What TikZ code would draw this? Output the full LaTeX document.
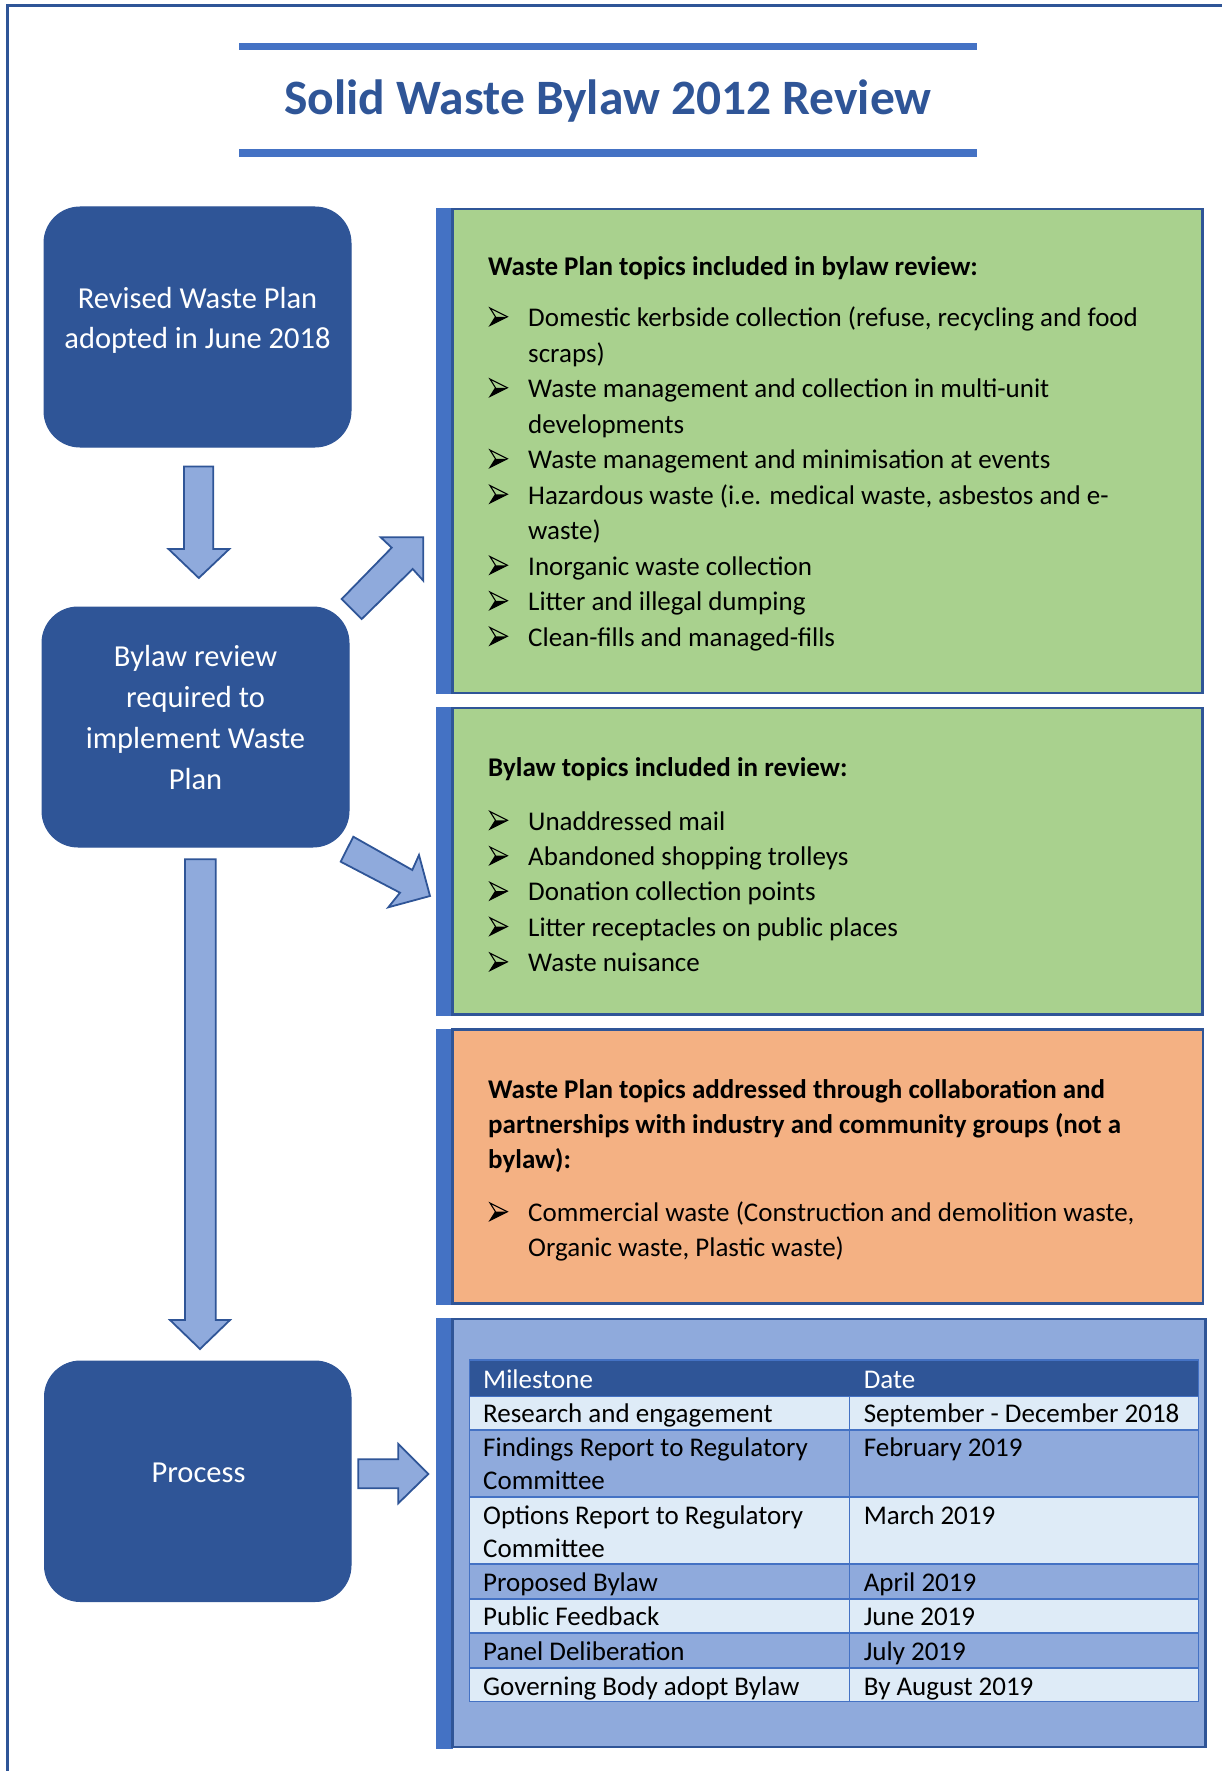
\documentclass[tikz,border=0pt]{standalone}
\usepackage{fontspec}
\usetikzlibrary{calc}
\setmainfont{Carlito}
\definecolor{dblue}{HTML}{2F5597}
\definecolor{mblue}{HTML}{4472C4}
\definecolor{lblue}{HTML}{8FAADC}
\definecolor{pblue}{HTML}{DEEBF7}
\definecolor{wgreen}{HTML}{A9D18E}
\definecolor{worange}{HTML}{F4B183}
\tikzset{
  frameline/.style={draw=dblue,line width=3pt},
  topbar/.style={fill=mblue,draw=none},
  dbox/.style={fill=dblue,draw=dblue,line width=1pt,rounded corners=36pt,inner sep=0pt},
  boxtxt/.style={text=white,font=\fontsize{30.5}{40}\selectfont,anchor=base,inner sep=0pt},
  blockarrow/.style={fill=lblue,draw=dblue,line width=1.8pt,line join=miter},
  sidebar/.style={fill=mblue,draw=none},
  panel/.style={draw=dblue,line width=2.5pt},
  bodytxt/.style={font=\fontsize{27}{35}\selectfont,anchor=base west,inner sep=0pt},
  paneltitle/.style={font=\fontsize{27}{35}\selectfont\bfseries,anchor=base west,inner sep=0pt},
  bulbox/.style={minimum width=17pt,minimum height=17pt,inner sep=0pt,anchor=south west,draw=none},
  bulline/.style={draw=black,line width=1.1pt,line join=miter},
  cell/.style={draw=mblue,line width=1.5pt},
  headtxt/.style={bodytxt,text=white},
}
\newcommand\mybul[3]{%
  \node[bulbox] (#1) at (#2,#3-1) {};
  \coordinate (#1n) at ($(#1.west)+(5.5pt,0)$);
  \fill[black] (#1n) -- (#1.east) -- (#1.south west) -- cycle;
  \draw[bulline] (#1n) -- (#1.north west) -- (#1.east) -- (#1.south west) -- cycle;
}
\begin{document}
\begin{tikzpicture}[x=1pt,y=-1pt]
\useasboundingbox (0,0) rectangle (1222,1771);
\begin{scope}
\clip (0,0) rectangle (1222,1771);
\draw[frameline] (7.7,1800) -- (7.7,5.5) -- (1240,5.5);
\end{scope}
% title
\fill[topbar] (239,42.7) rectangle (977.4,50);
\fill[topbar] (239,149.3) rectangle (977.4,156.7);
\node[anchor=base,inner sep=0pt,text=dblue,font=\fontsize{49.5}{59}\selectfont\bfseries] (title) at (608,114.5) {Solid Waste Bylaw 2012 Review};

% left boxes
\node[dbox,minimum width=307pt,minimum height=240pt] (b1) at (197.5,327) {};
\node[boxtxt] (b1a) at (197.5,308.3) {Revised Waste Plan};
\node[boxtxt] (b1b) at (197.5,348.5) {adopted in June 2018};

\node[dbox,minimum width=307pt,minimum height=240pt] (b2) at (195.5,727) {};
\node[boxtxt] (b2a) at (195.5,666.8) {Bylaw review};
\node[boxtxt] (b2b) at (195.5,707.8) {required to};
\node[boxtxt] (b2c) at (195.5,748.4) {implement Waste};
\node[boxtxt] (b2d) at (195.5,789) {Plan};

\node[dbox,minimum width=306.5pt,minimum height=240.5pt] (b3) at (197.75,1481.25) {};
\node[boxtxt] (b3a) at (198.5,1482.4) {Process};

% block arrows
\draw[blockarrow] (184,466.5) -- (213.3,466.5) -- (213.3,549) -- (229.3,549) -- (198.8,578) -- (168.5,549) -- (184,549) -- cycle;
\draw[blockarrow] (380.7,537.3) -- (423.3,537.3) -- (423.3,580.7) -- (412.7,569) -- (361.7,619) -- (341.7,599) -- (391.7,547.7) -- cycle;
\draw[blockarrow] (353.3,836.7) -- (412.3,870) -- (419,855) -- (430,896) -- (388.3,907.3) -- (400,892.7) -- (340.7,861.7) -- cycle;
\draw[blockarrow] (185,859.3) -- (215.7,859.3) -- (215.7,1320) -- (230,1320) -- (200,1349) -- (170,1320) -- (185,1320) -- cycle;
\draw[blockarrow] (358.3,1459.3) -- (398.3,1459.3) -- (398.3,1444) -- (428.3,1474) -- (398.3,1503.3) -- (398.3,1488.3) -- (358.3,1488.3) -- cycle;

% panel 1
\fill[sidebar] (436,208) rectangle (453,694);
\draw[panel,fill=wgreen] (452.5,209.2) rectangle (1202.3,692.8);
\node[paneltitle] (p1t) at (488,276) {Waste Plan topics included in bylaw review:};
\mybul{p1u1}{490}{326.5}
\node[bodytxt] (p1a) at (528,326.5) {Domestic kerbside collection (refuse, recycling and food};
\node[bodytxt] (p1b) at (528,362) {scraps)};
\mybul{p1u2}{490}{397.5}
\node[bodytxt] (p1c) at (528,397.5) {Waste management and collection in multi-unit};
\node[bodytxt] (p1d) at (528,433) {developments};
\mybul{p1u3}{490}{468.5}
\node[bodytxt] (p1e) at (528,468.5) {Waste management and minimisation at events};
\mybul{p1u4}{490}{504}
\node[bodytxt] (p1f) at (528,504) {Hazardous waste (i.e. medical waste, asbestos and e-};
\node[bodytxt] (p1g) at (528,539.5) {waste)};
\mybul{p1u5}{490}{575}
\node[bodytxt] (p1h) at (528,575) {Inorganic waste collection};
\mybul{p1u6}{490}{610.5}
\node[bodytxt] (p1i) at (528,610.5) {Litter and illegal dumping};
\mybul{p1u7}{490}{646}
\node[bodytxt] (p1j) at (528,646) {Clean-fills and managed-fills};

% panel 2
\fill[sidebar] (436,707) rectangle (453,1016);
\draw[panel,fill=wgreen] (452.5,708.2) rectangle (1202.3,1014.5);
\node[paneltitle] (p2t) at (488,776.5) {Bylaw topics included in review:};
\mybul{p2u1}{490}{830}
\node[bodytxt] (p2a) at (528,830) {Unaddressed mail};
\mybul{p2u2}{490}{865.4}
\node[bodytxt] (p2b) at (528,865.4) {Abandoned shopping trolleys};
\mybul{p2u3}{490}{900.8}
\node[bodytxt] (p2c) at (528,900.8) {Donation collection points};
\mybul{p2u4}{490}{936.2}
\node[bodytxt] (p2d) at (528,936.2) {Litter receptacles on public places};
\mybul{p2u5}{490}{971.6}
\node[bodytxt] (p2e) at (528,971.6) {Waste nuisance};

% panel 3
\fill[sidebar] (436,1028.5) rectangle (453,1305);
\draw[panel,fill=worange] (452.5,1029.7) rectangle (1202.8,1303.5);
\node[paneltitle] (p3t1) at (488,1098) {Waste Plan topics addressed through collaboration and};
\node[paneltitle] (p3t2) at (488,1133) {partnerships with industry and community groups (not a};
\node[paneltitle] (p3t3) at (488,1168) {bylaw):};
\mybul{p3u1}{490}{1221.4}
\node[bodytxt] (p3a) at (528,1221.4) {Commercial waste (Construction and demolition waste,};
\node[bodytxt] (p3b) at (528,1256.5) {Organic waste, Plastic waste)};

% panel 4 (table)
\fill[sidebar] (435.5,1318) rectangle (453,1748.5);
\draw[panel,fill=lblue] (452.5,1319.2) rectangle (1205.3,1747);
\fill[dblue] (469.5,1360) rectangle (1198.7,1396.7);
\fill[pblue] (469.5,1396.7) rectangle (1198.7,1430);
\fill[lblue] (469.5,1430) rectangle (1198.7,1497);
\fill[pblue] (469.5,1497) rectangle (1198.7,1564);
\fill[lblue] (469.5,1564) rectangle (1198.7,1599);
\fill[pblue] (469.5,1599) rectangle (1198.7,1633);
\fill[lblue] (469.5,1633) rectangle (1198.7,1668);
\fill[pblue] (469.5,1668) rectangle (1198.7,1701.7);
\draw[cell] (469.5,1360) rectangle (1198.7,1701.7);
\foreach \yy in {1396.7,1430,1497,1564,1599,1633,1668} \draw[cell] (469.5,\yy) -- (1198.7,\yy);
\draw[cell] (849.6,1396.7) -- (849.6,1701.7);
\node[headtxt] (th1) at (483,1388.3) {Milestone};
\node[headtxt] (th2) at (863.6,1388.3) {Date};
\node[bodytxt] (r1a) at (483,1422) {Research and engagement};
\node[bodytxt] (r1b) at (863.6,1422) {September - December 2018};
\node[bodytxt] (r2a) at (483,1456.8) {Findings Report to Regulatory};
\node[bodytxt] (r2c) at (483,1489.3) {Committee};
\node[bodytxt] (r2b) at (863.6,1456.8) {February 2019};
\node[bodytxt] (r3a) at (483,1524.5) {Options Report to Regulatory};
\node[bodytxt] (r3c) at (483,1557) {Committee};
\node[bodytxt] (r3b) at (863.6,1524.5) {March 2019};
\node[bodytxt] (r4a) at (483,1591.5) {Proposed Bylaw};
\node[bodytxt] (r4b) at (863.6,1591.5) {April 2019};
\node[bodytxt] (r5a) at (483,1625.5) {Public Feedback};
\node[bodytxt] (r5b) at (863.6,1625.5) {June 2019};
\node[bodytxt] (r6a) at (483,1660.5) {Panel Deliberation};
\node[bodytxt] (r6b) at (863.6,1660.5) {July 2019};
\node[bodytxt] (r7a) at (483,1695) {Governing Body adopt Bylaw};
\node[bodytxt] (r7b) at (863.6,1695) {By August 2019};
\end{tikzpicture}
\end{document}
